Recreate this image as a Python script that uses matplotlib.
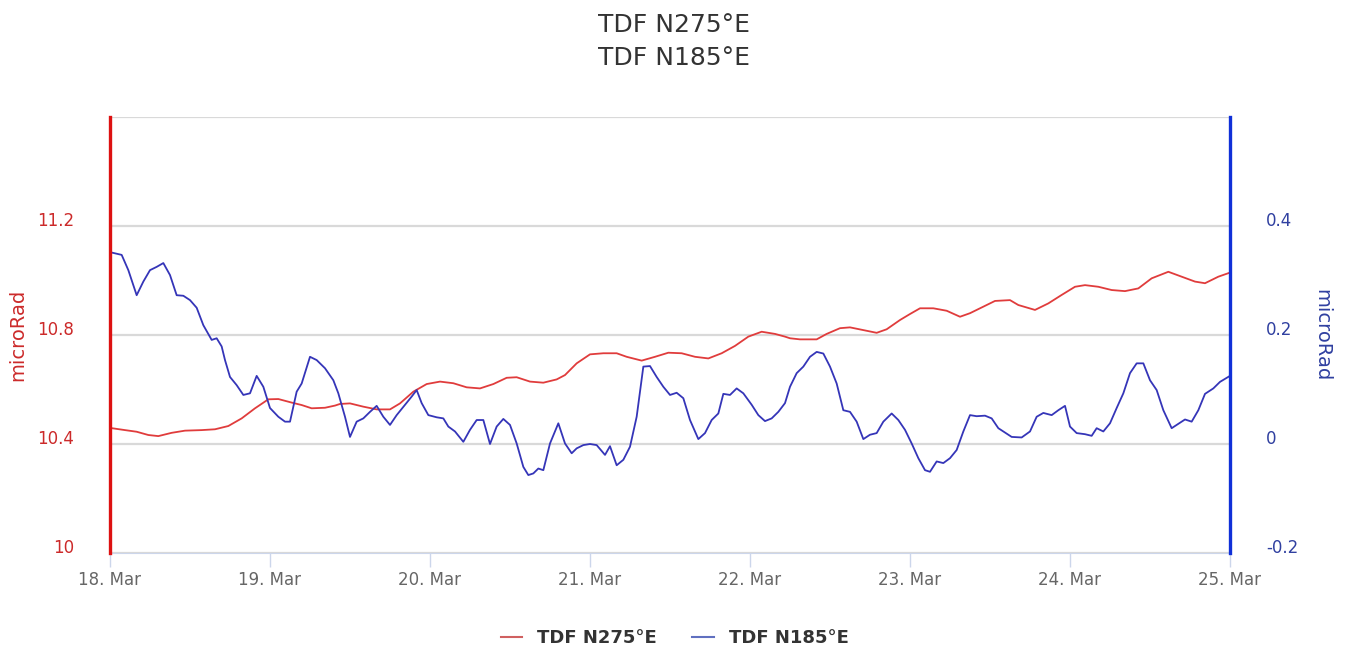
import numpy as np
import pandas as pd
import matplotlib
matplotlib.use('Agg')
import matplotlib.pyplot as plt
import matplotlib.dates as mdates
from matplotlib.lines import Line2D

# hours since 18. Mar 00:00 and tilt values (microRad)
red_hours = [0, 2.25, 4, 5.75, 7.25, 9.25, 11.25, 13.75, 15.75, 17.75, 19.75, 21.75, 23.75,
             25.25, 27.25, 28.75, 30.25, 32.25, 33.75, 34.5, 36, 38, 40, 42, 43.5, 45.5, 47.5,
             49.5, 51.5, 53.5, 55.5, 57.5, 59.5, 61, 63, 65, 67, 68.25, 70, 72, 74, 76, 77.5,
             79.75, 81.75, 83.75, 85.75, 87.75, 89.75, 91.75, 93.75, 95.75, 97.75, 99.75,
             101.25, 102, 103.5, 106, 107.5, 109.5, 111, 113, 115, 116.5, 118.5, 120, 121.5,
             123.5, 125.5, 127.5, 129, 131, 132.75, 135, 136.25, 138.75, 140.75, 142.75,
             144.75, 146.25, 148.25, 150.25, 152.25, 154.25, 156.25, 158.75, 160.75, 162.75,
             164.25, 166.25, 168]
red_vals = [10.459, 10.451, 10.445, 10.433, 10.429, 10.441, 10.449, 10.451, 10.454, 10.466,
            10.494, 10.531, 10.564, 10.565, 10.552, 10.543, 10.531, 10.533, 10.541, 10.547,
            10.549, 10.537, 10.527, 10.527, 10.549, 10.592, 10.620, 10.629, 10.623, 10.608,
            10.604, 10.620, 10.643, 10.645, 10.629, 10.625, 10.637, 10.653, 10.696, 10.729,
            10.733, 10.733, 10.720, 10.706, 10.720, 10.735, 10.733, 10.720, 10.714, 10.733,
            10.760, 10.794, 10.812, 10.804, 10.794, 10.788, 10.784, 10.784, 10.804, 10.825,
            10.828, 10.818, 10.808, 10.821, 10.855, 10.877, 10.898, 10.898, 10.889, 10.867,
            10.880, 10.904, 10.925, 10.928, 10.910, 10.892, 10.916, 10.947, 10.977, 10.983,
            10.977, 10.965, 10.961, 10.971, 11.008, 11.032, 11.014, 10.996, 10.990, 11.014,
            11.029]

blue_hours = [0, 1.75, 2.75, 4, 5, 6, 7, 8, 9, 10, 11, 12, 13, 14, 15.25, 16, 16.75, 17.25,
              18, 19, 20, 21, 22, 23, 24, 25.25, 26.25, 27, 28, 28.75, 30, 31, 32.25, 33.5,
              34.25, 35.25, 36, 37, 38, 39, 40, 41, 42, 43, 44.25, 45.25, 46, 46.75, 47.75,
              49, 50, 50.75, 51.75, 53, 54, 55, 56, 57, 58, 59, 60, 61, 62, 62.75, 63.5, 64.25,
              65, 66, 67.25, 68.25, 69.25, 70, 71, 72, 73, 74.25, 75, 76, 77, 78, 79, 80, 81,
              82, 83, 84, 85, 86, 87, 88.25, 89.25, 90.25, 91.25, 92, 93, 94, 95, 96.25,
              97.25, 98.25, 99.25, 100.25, 101.25, 102, 103, 104, 105, 106, 107, 108, 109,
              110, 111, 112, 113, 114, 115, 116, 117.25, 118.25, 119.25, 120.25, 121.25,
              122.25, 123, 124, 125, 126, 127, 128, 129, 130, 131.25, 132.25, 133.25, 134.25,
              135.25, 136.75, 138, 139, 140, 141.25, 142.25, 143.25, 144, 145, 146.25, 147.25,
              148, 149, 150, 151, 152, 153, 154, 155, 156, 157, 158, 159.25, 160.25, 161.25,
              162.25, 163.25, 164.25, 165.5, 166.5, 168]
blue_vals = [0.352, 0.347, 0.319, 0.273, 0.298, 0.319, 0.325, 0.332, 0.310, 0.273, 0.272,
             0.264, 0.250, 0.218, 0.191, 0.194, 0.179, 0.154, 0.123, 0.108, 0.090, 0.093,
             0.125, 0.105, 0.066, 0.050, 0.041, 0.041, 0.096, 0.111, 0.160, 0.154, 0.139,
             0.117, 0.093, 0.050, 0.013, 0.041, 0.047, 0.059, 0.070, 0.050, 0.035, 0.053,
             0.072, 0.087, 0.099, 0.075, 0.053, 0.049, 0.047, 0.032, 0.023, 0.004, 0.026,
             0.044, 0.044, 0.000, 0.032, 0.046, 0.035, 0.001, -0.042, -0.057, -0.054, -0.045,
             -0.048, 0.001, 0.038, 0.001, -0.017, -0.008, -0.002, 0.000, -0.002, -0.020,
             -0.004, -0.039, -0.029, -0.005, 0.050, 0.142, 0.143, 0.123, 0.105, 0.090, 0.094,
             0.084, 0.044, 0.009, 0.020, 0.044, 0.056, 0.092, 0.090, 0.102, 0.093, 0.072,
             0.053, 0.042, 0.047, 0.059, 0.075, 0.105, 0.130, 0.142, 0.160, 0.169, 0.166,
             0.142, 0.111, 0.062, 0.059, 0.041, 0.009, 0.017, 0.020, 0.041, 0.056, 0.044,
             0.026, 0.001, -0.026, -0.048, -0.051, -0.032, -0.035, -0.026, -0.011, 0.023,
             0.053, 0.051, 0.052, 0.047, 0.029, 0.021, 0.013, 0.012, 0.023, 0.050, 0.057,
             0.053, 0.062, 0.070, 0.032, 0.020, 0.018, 0.015, 0.029, 0.023, 0.038, 0.066,
             0.093, 0.130, 0.148, 0.148, 0.117, 0.099, 0.062, 0.029, 0.037, 0.045, 0.041,
             0.062, 0.092, 0.102, 0.114, 0.125]

left_ticks = [10, 10.4, 10.8, 11.2, 11.6]
left_labels = ['10', '10.4', '10.8', '11.2', '']
right_ticks = [-0.2, 0, 0.2, 0.4]
right_labels = ['-0.2', '0', '0.2', '0.4']

start = pd.Timestamp('2019-03-18')
red_t = start + pd.to_timedelta(red_hours, unit='h')
blue_t = start + pd.to_timedelta(blue_hours, unit='h')

RED = '#e03c3c'
BLUE = '#3535b8'

fig = plt.figure(figsize=(13.49, 6.51), dpi=100)
ax = fig.add_axes([110/1349, 98/651, 1120/1349, 436/651])
ax2 = ax.twinx()

ax.plot(red_t, red_vals, color=RED, lw=1.3)
ax2.plot(blue_t, blue_vals, color=BLUE, lw=1.3)

ax.set_xlim(start, start + pd.Timedelta(days=7))
ax.set_ylim(10, 11.6)
ax2.set_ylim(-0.2, 0.6)

ax.xaxis.set_major_locator(mdates.DayLocator())
ax.xaxis.set_major_formatter(mdates.DateFormatter('%d. %b'))
ax.tick_params(axis='x', length=10, width=1, color='#ccd6eb', labelsize=12,
               labelcolor='#666666', pad=3)

ax.set_yticks(left_ticks)
ax.set_yticklabels(left_labels)
ax.tick_params(axis='y', length=0, labelsize=12, labelcolor='#cc2a2a', pad=26)
ax2.set_yticks(right_ticks)
ax2.set_yticklabels(right_labels)
ax2.tick_params(axis='y', length=0, labelsize=12, labelcolor='#3040a0', pad=26)
for lab in ax.get_yticklabels() + ax2.get_yticklabels():
    lab.set_va('baseline')

ax.grid(axis='y', color='#d9d9d9', lw=1.6)
ax.set_axisbelow(True)

ax.spines['top'].set_visible(False)
ax2.spines['top'].set_visible(False)
ax.spines['bottom'].set_color('#ccd6eb')
ax2.spines['bottom'].set_visible(False)
ax.spines['right'].set_visible(False)
ax2.spines['left'].set_color('#dd1111')
ax2.spines['left'].set_linewidth(2.4)
ax2.spines['right'].set_color('#1030d8')
ax2.spines['right'].set_linewidth(2.4)

fig.text(18/1349, 1 - 335/651, 'microRad', rotation=90, ha='center', va='center',
         fontsize=14, color='#cc2a2a')
fig.text(1322/1349, 1 - 335/651, 'microRad', rotation=270, ha='center', va='center',
         fontsize=14, color='#3040a0')

fig.text(0.5, 1 - 25/651, 'TDF N275°E', ha='center', va='center', fontsize=18, color='#333333')
fig.text(0.5, 1 - 58/651, 'TDF N185°E', ha='center', va='center', fontsize=18, color='#333333')

handles = [Line2D([], [], color='#d06060', lw=1.5), Line2D([], [], color='#6070c0', lw=1.5)]
fig.legend(handles, ['TDF N275°E', 'TDF N185°E'], loc='center', bbox_to_anchor=(0.5, 1 - 638/651),
           ncol=2, frameon=False, handlelength=1.2, columnspacing=2.0,
           prop={'weight': 'bold', 'size': 13}, labelcolor='#333333')

fig.savefig('out.png', dpi=100)
